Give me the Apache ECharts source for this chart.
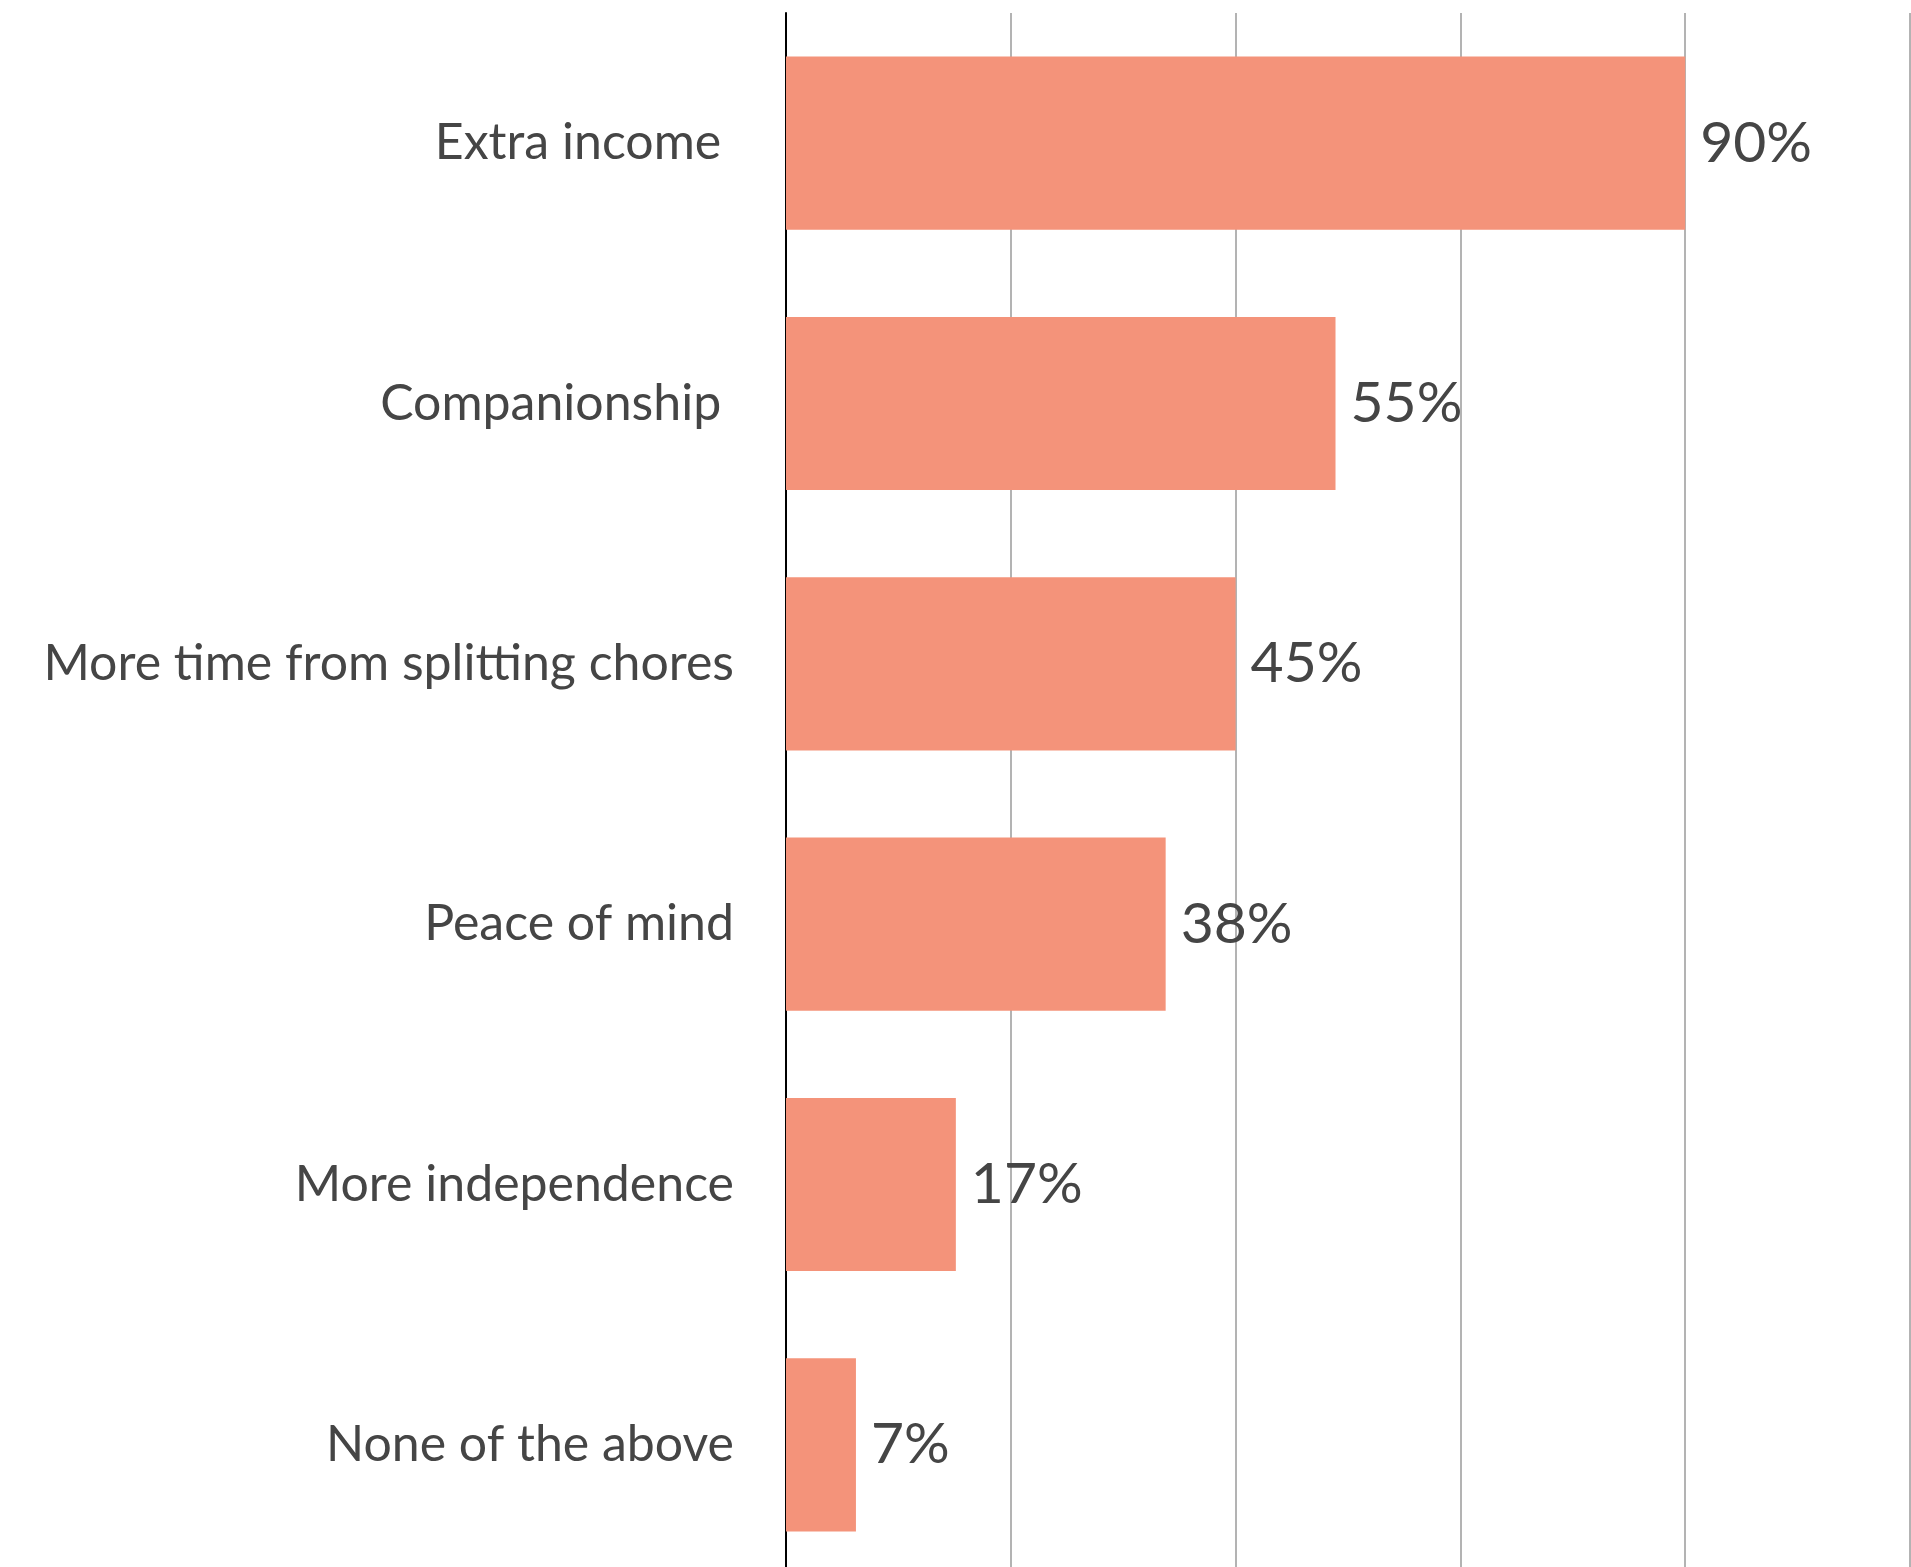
<!DOCTYPE html>
<html>
<head>
<meta charset="utf-8">
<script src="https://cdn.jsdelivr.net/npm/echarts@6/dist/echarts.min.js"></script>
<style>
  html, body { margin: 0; padding: 0; background: #ffffff; overflow: hidden; }
  #chart { width: 1911px; height: 1580px; }
</style>
</head>
<body>
<div id="chart"></div>
<script>
// Reasons given, in order from top to bottom
const categories = [
  'Extra income ',
  'Companionship ',
  'More time from splitting chores',
  'Peace of mind',
  'More independence',
  'None of the above'
];
// Share of respondents (%)
const values = [90, 55, 45, 38, 17, 7];

const chart = echarts.init(document.getElementById('chart'), null, { renderer: 'canvas' });

// The plot runs past the lower edge of the page, so the last band is cut off
chart.setOption({
  animation: false,
  backgroundColor: '#ffffff',
  grid: { left: 786, right: 1, top: 13, bottom: 5, containLabel: false },
  xAxis: {
    type: 'value',
    min: 0,
    max: 112.5,
    interval: 22.5,
    axisLine: { show: false },
    axisTick: { show: false },
    axisLabel: { show: false },
    splitLine: { show: true, lineStyle: { color: '#b3b3b3', width: 2 } }
  },
  yAxis: {
    type: 'category',
    data: categories,
    inverse: true,
    axisLine: { show: true, lineStyle: { color: '#000000', width: 2 } },
    axisTick: { show: false },
    axisLabel: {
      margin: 52,
      color: '#454545',
      fontFamily: 'Lato',
      fontSize: 50
    }
  },
  series: [{
    type: 'bar',
    data: values,
    barCategoryGap: '33.5%',
    itemStyle: { color: '#F4937A' },
    label: {
      show: true,
      position: 'right',
      distance: 15,
      formatter: p => p.value + '%',
      color: '#454545',
      fontFamily: 'Lato',
      fontSize: 57
    }
  }]
});
</script>
</body>
</html>
